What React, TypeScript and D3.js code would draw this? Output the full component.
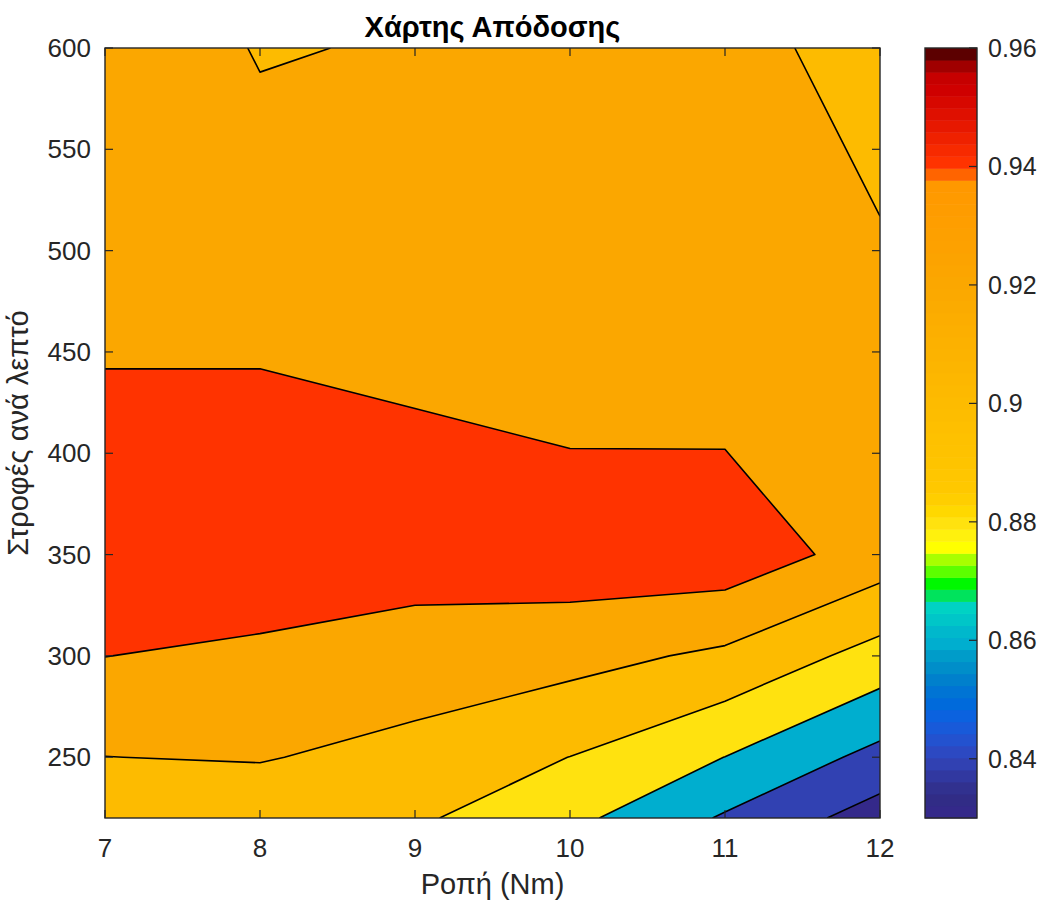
import React, { useEffect } from "react";
import * as d3 from "d3";

// Torque (Nm) grid columns and speed (rpm) grid rows
const torque = [7, 8, 9, 10, 11, 12];
const speed = [220, 250, 300, 350, 400, 450, 500, 550, 600];

// Efficiency per speed row (columns follow torque)
const eff220 = [0.908, 0.905, 0.9028, 0.8852, 0.8578, 0.8308];
const eff250 = [0.9198, 0.9215, 0.912, 0.8998, 0.8798, 0.8538];
const eff300 = [0.9402, 0.936, 0.9342, 0.9266, 0.9163, 0.8923];
const eff350 = [0.955, 0.9542, 0.9458, 0.9519, 0.9527, 0.9308];
const eff400 = [0.952, 0.952, 0.946, 0.9405, 0.94033, 0.9253];
const eff450 = [0.9376, 0.9376, 0.9324, 0.93, 0.932, 0.926];
const eff500 = [0.93, 0.93, 0.928, 0.93, 0.9368, 0.9217];
const eff550 = [0.927, 0.9216, 0.925, 0.928, 0.9318, 0.9167];
const eff600 = [0.9258, 0.9195, 0.9206, 0.925, 0.9268, 0.9117];
const efficiency = [eff220, eff250, eff300, eff350, eff400, eff450, eff500, eff550, eff600];

const levels = [0.84, 0.86, 0.88, 0.9, 0.92, 0.94];
const xTicks = [7, 8, 9, 10, 11, 12];
const yTicks = [250, 300, 350, 400, 450, 500, 550, 600];
const cbTicks = [0.84, 0.86, 0.88, 0.9, 0.92, 0.94, 0.96];
const cbLabels = ["0.84", "0.86", "0.88", "0.9", "0.92", "0.94", "0.96"];
const cLim = [0.83, 0.96];

// Colormap anchors (band index -> colour), 64 bands
const cmapAnchors: [number, string][] = [
  [0, "#34298a"], [1, "#312c86"], [2, "#31318f"], [3, "#3138a0"], [4, "#3141b2"],
  [5, "#2c49c2"], [6, "#2352cf"], [7, "#185ad9"], [8, "#0b62df"], [9, "#006adb"],
  [10, "#0074d4"], [11, "#0080cc"], [12, "#008ec9"], [13, "#009cc9"], [14, "#00aecf"],
  [15, "#00b8cc"], [16, "#00c6c8"], [17, "#00d2c4"], [18, "#00e35c"], [19, "#00f800"],
  [20, "#5cff00"], [21, "#a8ff00"], [22, "#ffff00"], [23, "#fff10d"], [24, "#ffe20f"],
  [25, "#ffd800"], [26, "#ffce00"], [27, "#ffc800"], [34, "#fdbb00"], [44, "#fba700"],
  [52, "#ff9800"], [53, "#ff6400"], [54, "#ff3300"], [55, "#f72a00"], [56, "#ef2100"],
  [57, "#e71800"], [58, "#df1000"], [59, "#d70800"], [60, "#cf0000"], [61, "#c60000"],
  [62, "#a00000"], [63, "#5c0000"],
];
const NBANDS = 64;

function buildColormap(): string[] {
  const out: string[] = [];
  for (let i = 0; i < NBANDS; i++) {
    let k = 0;
    while (k < cmapAnchors.length - 1 && cmapAnchors[k + 1][0] <= i) k++;
    const [i0, c0] = cmapAnchors[k];
    if (i0 === i || k === cmapAnchors.length - 1) {
      out.push(c0);
    } else {
      const [i1, c1] = cmapAnchors[k + 1];
      out.push(d3.interpolateRgb(c0, c1)((i - i0) / (i1 - i0)));
    }
  }
  return out;
}

const W = 1037;
const H = 900;
const PL = 105, PR = 880, PT = 48, PB = 818;
const CBX0 = 925, CBX1 = 977;
const AX = "#262626";
const FONT = "'Liberation Sans', Arial, Helvetica, sans-serif";

export default function App() {
  useEffect(() => {
    document.body.style.margin = "0";
  }, []);

  const cmap = buildColormap();
  const colorFor = (v: number) => {
    const i = Math.floor(((v - cLim[0]) / (cLim[1] - cLim[0])) * NBANDS + 1e-9);
    return cmap[Math.max(0, Math.min(NBANDS - 1, i))];
  };

  const x = d3.scaleLinear().domain([7, 12]).range([PL, PR]);
  const y = d3.scaleLinear().domain([220, 600]).range([PB, PT]);
  const cy = d3.scaleLinear().domain(cLim).range([PB, PT]);

  const n = torque.length;
  const m = speed.length;
  const tx = d3.scaleLinear().domain(d3.range(n)).range(torque).clamp(true);
  const ty = d3.scaleLinear().domain(d3.range(m)).range(speed).clamp(true);

  const values = efficiency.flat();
  const contours = d3.contours().size([n, m]).thresholds(levels)(values);

  type P = { px: number; py: number; bx0: boolean; bx1: boolean; by0: boolean; by1: boolean };
  const eps = 1e-6;
  const tp = (c: number[]): P => {
    const ix = c[0] - 0.5;
    const iy = c[1] - 0.5;
    return {
      px: x(tx(ix)),
      py: y(ty(iy)),
      bx0: ix <= eps,
      bx1: ix >= n - 1 - eps,
      by0: iy <= eps,
      by1: iy >= m - 1 - eps,
    };
  };

  const fills: { d: string; color: string }[] = [];
  const lines: string[] = [];
  contours.forEach((c) => {
    let fd = "";
    let ld = "";
    c.coordinates.forEach((poly) => {
      poly.forEach((ring) => {
        const pts = ring.map(tp);
        fd += "M" + pts.map((p) => `${p.px.toFixed(2)},${p.py.toFixed(2)}`).join("L") + "Z";
        let last: P | null = null;
        for (let i = 0; i < pts.length - 1; i++) {
          const a = pts[i];
          const b = pts[i + 1];
          const onBorder =
            (a.bx0 && b.bx0) || (a.bx1 && b.bx1) || (a.by0 && b.by0) || (a.by1 && b.by1);
          if (onBorder) {
            last = null;
            continue;
          }
          if (last !== a) ld += `M${a.px.toFixed(2)},${a.py.toFixed(2)}`;
          ld += `L${b.px.toFixed(2)},${b.py.toFixed(2)}`;
          last = b;
        }
      });
    });
    fills.push({ d: fd, color: colorFor(c.value) });
    lines.push(ld);
  });

  const bandH = (PB - PT) / NBANDS;
  const baseColor = colorFor(d3.min(values) as number);

  return (
    <svg width={W} height={H} style={{ display: "block", background: "#fff" }} fontFamily={FONT}>
      <defs>
        <clipPath id="plotClip">
          <rect x={PL} y={PT} width={PR - PL} height={PB - PT} />
        </clipPath>
      </defs>
      <g clipPath="url(#plotClip)">
        <rect x={PL} y={PT} width={PR - PL} height={PB - PT} fill={baseColor} />
        {fills.map((f, i) => (
          <path key={"f" + i} d={f.d} fill={f.color} fillRule="evenodd" stroke="none" />
        ))}
        {lines.map((d, i) => (
          <path key={"l" + i} d={d} fill="none" stroke="#000" strokeWidth={1.6} strokeLinejoin="round" />
        ))}
      </g>
      {/* ticks */}
      {xTicks.map((t) => (
        <g key={"xt" + t}>
          <line x1={x(t)} x2={x(t)} y1={PB} y2={PB - 8} stroke={AX} strokeWidth={1.2} />
          <line x1={x(t)} x2={x(t)} y1={PT} y2={PT + 8} stroke={AX} strokeWidth={1.2} />
          <text x={x(t)} y={857} textAnchor="middle" fontSize={26} fill={AX}>
            {t}
          </text>
        </g>
      ))}
      {yTicks.map((t) => (
        <g key={"yt" + t}>
          <line x1={PL} x2={PL + 8} y1={y(t)} y2={y(t)} stroke={AX} strokeWidth={1.2} />
          <line x1={PR} x2={PR - 8} y1={y(t)} y2={y(t)} stroke={AX} strokeWidth={1.2} />
          <text x={91} y={y(t)} dy="0.35em" textAnchor="end" fontSize={26} fill={AX}>
            {t}
          </text>
        </g>
      ))}
      <rect x={PL} y={PT} width={PR - PL} height={PB - PT} fill="none" stroke={AX} strokeWidth={1.4} />
      {/* title and labels */}
      <text x={(PL + PR) / 2} y={37} textAnchor="middle" fontSize={29} fontWeight="bold" fill="#000">
        Χάρτης Απόδοσης
      </text>
      <text x={(PL + PR) / 2} y={894} textAnchor="middle" fontSize={29} fill={AX}>
        Ροπή (Nm)
      </text>
      <text
        transform={`translate(28,${(PT + PB) / 2}) rotate(-90)`}
        textAnchor="middle"
        fontSize={29}
        fill={AX}
      >
        Στροφές ανά λεπτό
      </text>
      {/* colorbar */}
      {cmap.map((c, i) => (
        <rect
          key={"cb" + i}
          x={CBX0}
          y={PB - (i + 1) * bandH}
          width={CBX1 - CBX0}
          height={bandH + 0.5}
          fill={c}
        />
      ))}
      <rect x={CBX0} y={PT} width={CBX1 - CBX0} height={PB - PT} fill="none" stroke={AX} strokeWidth={1.4} />
      {cbTicks.map((t, i) => (
        <g key={"cbt" + t}>
          <line x1={CBX1} x2={CBX1 - 8} y1={cy(t)} y2={cy(t)} stroke={AX} strokeWidth={1.2} />
          <text x={988} y={cy(t)} dy="0.35em" fontSize={25} fill={AX}>
            {cbLabels[i]}
          </text>
        </g>
      ))}
    </svg>
  );
}
